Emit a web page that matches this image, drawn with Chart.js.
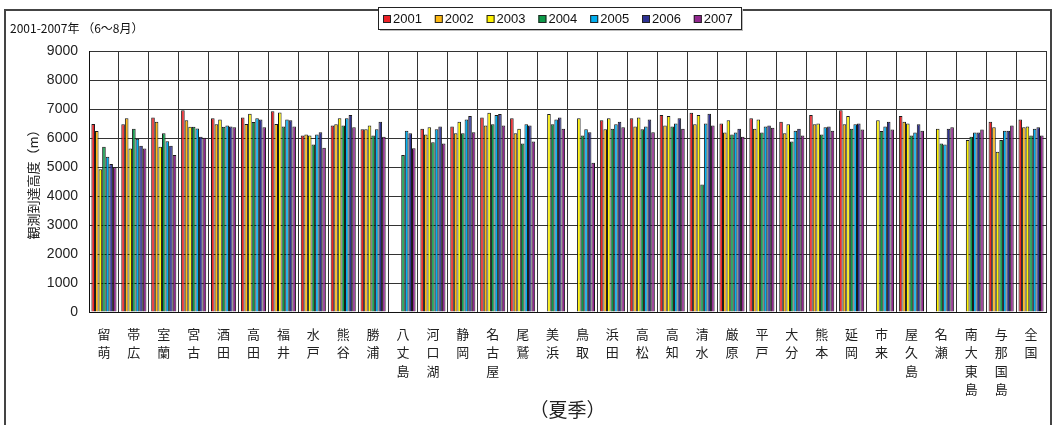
<!DOCTYPE html>
<html>
<head>
<meta charset="utf-8">
<script src="https://cdn.jsdelivr.net/npm/chart.js@4/dist/chart.umd.min.js"></script>
<style>
  html, body { margin: 0; padding: 0; background: #fff; }
  #wrap { width: 1054px; height: 425px; }
</style>
</head>
<body>
<div id="wrap"><canvas id="c" width="1054" height="425"></canvas></div>
<script>
const stations = ['留萌','帯広','室蘭','宮古','酒田','高田','福井','水戸','熊谷','勝浦','八丈島','河口湖','静岡','名古屋','尾鷲','美浜','鳥取','浜田','高松','高知','清水','厳原','平戸','大分','熊本','延岡','市来','屋久島','名瀬','南大東島','与那国島','全国'];
const years = ['2001','2002','2003','2004','2005','2006','2007'];
const yTicks = [0,1000,2000,3000,4000,5000,6000,7000,8000,9000];

const v2001 = [6480,6470,6710,6960,6680,6710,6920,6090,6430,6300,null,6320,6400,6710,6680,null,null,6610,6680,6790,6870,6500,6680,6560,6790,6960,null,6760,null,null,6560,6640];
const v2002 = [6240,6680,6560,6610,6470,6480,6480,6120,6470,6300,null,6120,6160,6430,6160,null,null,6300,6400,6430,6470,6190,6320,6160,6470,6470,null,6560,null,null,6370,6370];
const v2003 = [4920,5640,5700,6390,6640,6840,6880,6090,6680,6430,null,6370,6560,6870,6320,6830,6680,6680,6710,6760,6790,6610,6640,6470,6500,6760,6610,6500,6320,5930,5530,6400];
const v2004 = [5700,6320,6160,6390,6390,6550,6400,5780,6430,6090,5410,5850,6160,6470,5810,6470,6090,6320,6300,6400,4400,6120,6190,5880,6120,6320,6240,6090,5810,6040,5930,6090];
const v2005 = [5350,5970,5890,6330,6430,6680,6640,6120,6680,6300,6250,6300,6640,6790,6470,6640,6300,6470,6400,6500,6500,6190,6400,6250,6370,6470,6400,6190,5780,6190,6250,6320];
const v2006 = [5100,5730,5730,6040,6400,6640,6610,6200,6790,6560,6160,6400,6760,6830,6430,6710,6200,6560,6640,6680,6840,6320,6430,6320,6400,6500,6560,6470,6320,6190,6250,6370];
const v2007 = [4990,5640,5410,6010,6370,6370,6400,5660,6370,6040,5650,5810,6200,6430,5880,6320,5150,6370,6200,6320,6430,6040,6350,6090,6250,6290,6290,6250,6370,6290,6430,6090];

const seriesValues = [v2001, v2002, v2003, v2004, v2005, v2006, v2007];
const colors = ['#ec2227','#fdb813','#fff200','#0c9a48','#00aeef','#2e3192','#92278f'];

const CJK = '"Noto Sans CJK JP", "Noto Sans", sans-serif';
const SANS = '"Liberation Sans", Arial, sans-serif';

const framePlugin = {
  id: 'frame',
  beforeDraw(chart) {
    const ctx = chart.ctx;
    ctx.save();
    ctx.fillStyle = '#fff';
    ctx.fillRect(0, 0, chart.width, chart.height);
    ctx.strokeStyle = '#444';
    ctx.lineWidth = 2;
    ctx.strokeRect(5, 10, 1046, 430);
    ctx.restore();
  },
  afterDraw(chart) {
    const ctx = chart.ctx;
    ctx.save();
    ctx.fillStyle = '#111';
    ctx.font = '12px ' + CJK;
    ctx.textBaseline = 'middle';
    ctx.textAlign = 'left';
    ctx.fillText('2001-2007年 （6～8月）', 10, 28);
    const lx = 378, ly = 7, lw = 363, lh = 22;
    ctx.fillStyle = '#bbb';
    ctx.fillRect(lx + 2, ly + 2, lw, lh);
    ctx.fillStyle = '#fff';
    ctx.fillRect(lx, ly, lw, lh);
    ctx.strokeStyle = '#222';
    ctx.lineWidth = 1;
    ctx.strokeRect(lx + 0.5, ly + 0.5, lw, lh);
    ctx.font = '13px ' + SANS;
    chart.data.datasets.forEach((ds, i) => {
      const x = 383 + i * 51.8;
      const y = 19;
      ctx.fillStyle = ds.backgroundColor;
      ctx.fillRect(x, y - 4, 8, 8);
      ctx.strokeStyle = '#222';
      ctx.strokeRect(x + 0.5, y - 3.5, 7, 7);
      ctx.fillStyle = '#111';
      ctx.fillText(ds.label, x + 10, y + 0.5);
    });
    ctx.restore();
  }
};

new Chart(document.getElementById('c'), {
  type: 'bar',
  data: {
    labels: stations.map(s => Array.from(s)),
    datasets: years.map((y, i) => ({
      label: y,
      data: seriesValues[i],
      backgroundColor: colors[i],
      borderColor: '#1a1a1a',
      borderWidth: 1,
      categoryPercentage: 0.84,
      barPercentage: 1.0
    }))
  },
  options: {
    responsive: false,
    devicePixelRatio: 1,
    animation: false,
    layout: { padding: { left: 0, right: 8, top: 51, bottom: 0 } },
    plugins: {
      legend: { display: false },
      tooltip: { enabled: false },
      title: { display: false }
    },
    scales: {
      x: {
        grid: { offset: true, color: '#333', lineWidth: 1, drawTicks: false },
        border: { color: '#111', width: 1 },
        ticks: {
          autoSkip: false, maxRotation: 0, minRotation: 0,
          color: '#222', padding: 13,
          font: { family: CJK, size: 13, lineHeight: 1.41 }
        },
        title: {
          display: true, text: '（夏季）', color: '#222',
          font: { family: CJK, size: 19, lineHeight: 1.2 },
          padding: { top: 0, bottom: 4 }
        },
        afterFit(s) { s.height = 113; }
      },
      y: {
        min: 0, max: 9000,
        afterBuildTicks(s) { s.ticks = yTicks.map(v => ({ value: v })); },
        grid: { color: '#333', lineWidth: 1, drawTicks: false },
        border: { color: '#111', width: 1 },
        ticks: {
          color: '#222', padding: 11,
          font: { family: SANS, size: 14 },
          callback: (v) => String(v)
        },
        title: {
          display: true, text: '観測到達高度（m）', color: '#222',
          font: { family: CJK, size: 13, lineHeight: 1.2 },
          padding: { top: 25, bottom: 0 }
        },
        afterFit(s) { s.width = 89; }
      }
    }
  },
  plugins: [framePlugin]
});
</script>
</body>
</html>
